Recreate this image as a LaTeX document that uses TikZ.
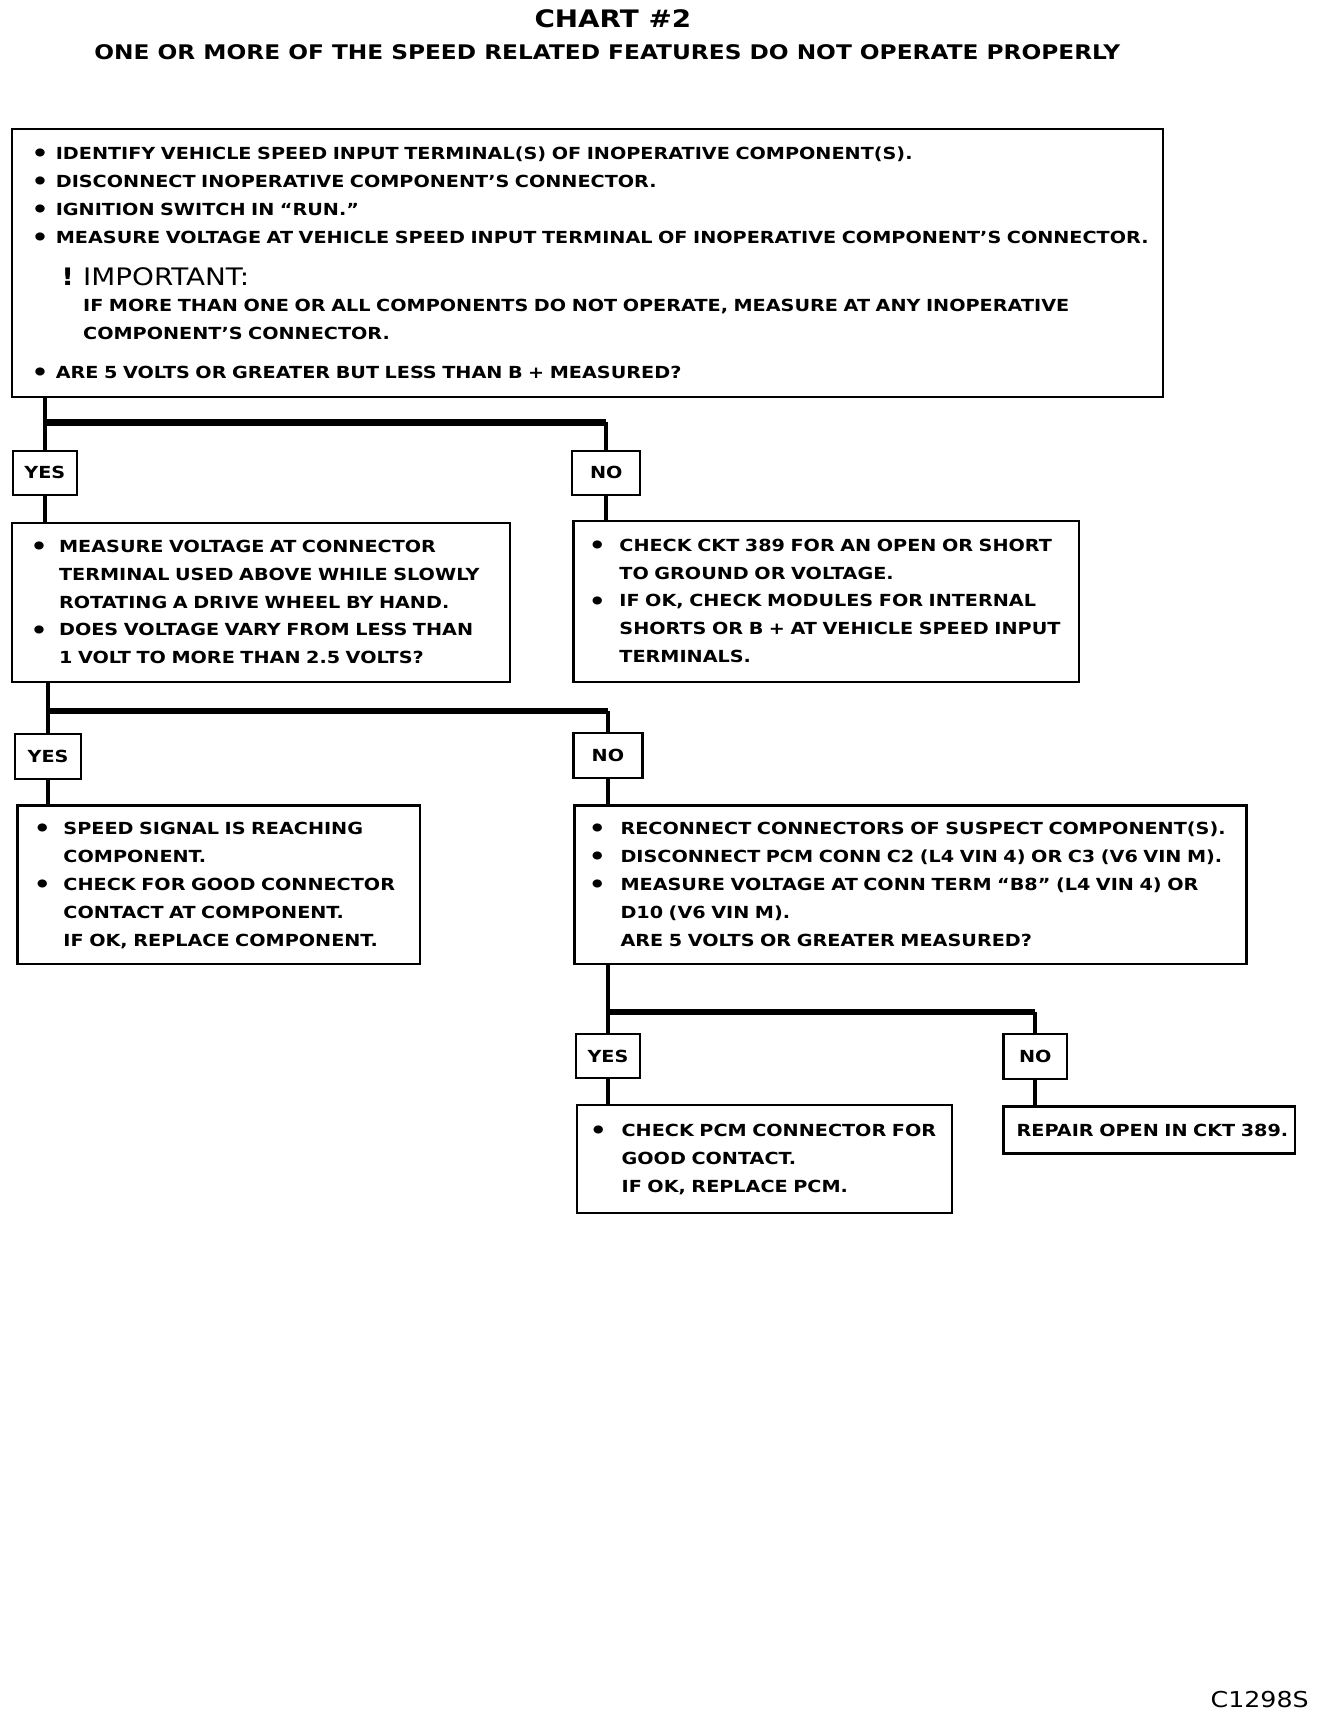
\documentclass[tikz,border=0pt]{standalone}
\usepackage{fontspec}
\setmainfont[FakeStretch=1.155]{DejaVu Sans}
\newcommand\chartbody{\fontsize{7.6}{12.75}\selectfont\bfseries}
\newcommand\bul{\raisebox{-1pt}{\fontsize{10.5}{10}\selectfont\textbullet}}
\newcommand\impmark{\makebox[12.5pt][l]{\hspace{2.5pt}\fontsize{11}{12}\selectfont\bfseries !}{\fontsize{11}{12}\selectfont\mdseries IMPORTANT:}}
\tikzset{
	box/.style={draw, line width=1pt, anchor=north west, inner ysep=0pt, align=left, font=\chartbody},
	tag/.style={draw, line width=1pt, inner sep=0pt, font=\chartbody},
	link/.style={line width=2pt},
	bar/.style={line width=2.8pt},
}
\begin{document}
\begin{tikzpicture}[x=0.5pt,y=-0.5pt]
			% page frame
			\useasboundingbox (0,0) rectangle (1213,1568);
			% titles
			\node[font=\fontsize{11}{13}\selectfont\bfseries] (title) at (560,17) {CHART \#2};
			\node[font=\fontsize{9.2}{11}\selectfont\bfseries] (subtitle) at (555,48) {ONE OR MORE OF THE SPEED RELATED FEATURES DO NOT OPERATE PROPERLY};
			% first check
			\node[box, minimum width=526pt, minimum height=122.5pt, inner xsep=9pt, text width=508pt] (main) at (10,117) {%
				\begin{tabular}{@{}p{11pt}@{}l@{}}
				\bul & IDENTIFY VEHICLE SPEED INPUT TERMINAL(S) OF INOPERATIVE COMPONENT(S).\\
				\bul & DISCONNECT INOPERATIVE COMPONENT'S CONNECTOR.\\
				\bul & IGNITION SWITCH IN ``RUN.''\\
				\bul & MEASURE VOLTAGE AT VEHICLE SPEED INPUT TERMINAL OF INOPERATIVE COMPONENT'S CONNECTOR.\\[6.8pt]
				& \impmark\\[-0.8pt]
				& \hspace{12.5pt}IF MORE THAN ONE OR ALL COMPONENTS DO NOT OPERATE, MEASURE AT ANY INOPERATIVE\\
				& \hspace{12.5pt}COMPONENT'S CONNECTOR.\\[4.8pt]
				\bul & ARE 5 VOLTS OR GREATER BUT LESS THAN B + MEASURED?
				\end{tabular}};
			\node[tag, minimum width=29pt, minimum height=20pt] (yes1) at (41,432) {YES};
			\node[tag, minimum width=31pt, minimum height=20pt] (no1) at (554,432) {NO};
			% second level
			\node[box, minimum width=227.5pt, minimum height=72.5pt, inner xsep=8.5pt, text width=210.5pt] (meas) at (10,477) {%
				\begin{tabular}{@{}p{13pt}@{}l@{}}
				\bul & MEASURE VOLTAGE AT CONNECTOR\\
				& TERMINAL USED ABOVE WHILE SLOWLY\\
				& ROTATING A DRIVE WHEEL BY HAND.\\
				\bul & DOES VOLTAGE VARY FROM LESS THAN\\
				& 1 VOLT TO MORE THAN 2.5 VOLTS?
				\end{tabular}};
			\node[box, minimum width=231pt, minimum height=73.5pt, inner xsep=7pt, text width=217pt] (ckt) at (523,475) {%
				\begin{tabular}{@{}p{14pt}@{}l@{}}
				\bul & CHECK CKT 389 FOR AN OPEN OR SHORT\\
				& TO GROUND OR VOLTAGE.\\
				\bul & IF OK, CHECK MODULES FOR INTERNAL\\
				& SHORTS OR B + AT VEHICLE SPEED INPUT\\
				& TERMINALS.
				\end{tabular}};
			\node[tag, minimum width=30pt, minimum height=20.5pt] (yes2) at (44,691.5) {YES};
			\node[tag, minimum width=31.5pt, minimum height=20.5pt] (no2) at (555.5,690.5) {NO};
			% third level
			\node[box, minimum width=184pt, minimum height=72.5pt, inner xsep=7.5pt, text width=169pt] (sig) at (15,735) {%
				\begin{tabular}{@{}p{13.5pt}@{}l@{}}
				\bul & SPEED SIGNAL IS REACHING\\
				& COMPONENT.\\
				\bul & CHECK FOR GOOD CONNECTOR\\
				& CONTACT AT COMPONENT.\\
				& IF OK, REPLACE COMPONENT.
				\end{tabular}};
			\node[box, minimum width=307pt, minimum height=72.5pt, inner xsep=6.5pt, text width=294pt] (conn) at (524,735) {%
				\begin{tabular}{@{}p{14.5pt}@{}l@{}}
				\bul & RECONNECT CONNECTORS OF SUSPECT COMPONENT(S).\\
				\bul & DISCONNECT PCM CONN C2 (L4 VIN 4) OR C3 (V6 VIN M).\\
				\bul & MEASURE VOLTAGE AT CONN TERM ``B8'' (L4 VIN 4) OR\\
				& D10 (V6 VIN M).\\
				& ARE 5 VOLTS OR GREATER MEASURED?
				\end{tabular}};
			\node[tag, minimum width=29.5pt, minimum height=20pt] (yes3) at (555.5,965) {YES};
			\node[tag, minimum width=29pt, minimum height=20.5pt] (no3) at (946,965.5) {NO};
			% last level
			\node[box, minimum width=171.5pt, minimum height=49pt, inner xsep=6pt, text width=159.5pt] (pcm) at (526,1009) {%
				\begin{tabular}{@{}p{14.5pt}@{}l@{}}
				\bul & CHECK PCM CONNECTOR FOR\\
				& GOOD CONTACT.\\
				& IF OK, REPLACE PCM.
				\end{tabular}};
			\node[box, minimum width=133pt, minimum height=21.5pt, inner xsep=6pt, text width=121pt] (repair) at (916,1010) {\mbox{REPAIR OPEN IN CKT 389.}};
			% connectors
			\coordinate (j1) at (41,386);
			\coordinate (j2) at (44,650);
			\coordinate (j3) at (555.5,925);
			\draw[link] (main.south -| j1) -- (yes1.north);
			\draw[bar] (j1) -- (j1 -| no1);
			\draw[link] (j1 -| no1) -- (no1.north);
			\draw[link] (yes1.south) -- (yes1.south |- meas.north);
			\draw[link] (no1.south) -- (no1.south |- ckt.north);
			\draw[link] (meas.south -| j2) -- (yes2.north);
			\draw[bar] (j2) -- (j2 -| no2);
			\draw[link] (j2 -| no2) -- (no2.north);
			\draw[link] (yes2.south) -- (yes2.south |- sig.north);
			\draw[link] (no2.south) -- (no2.south |- conn.north);
			\draw[link] (conn.south -| j3) -- (yes3.north);
			\draw[bar] (j3) -- (j3 -| no3);
			\draw[link] (j3 -| no3) -- (no3.north);
			\draw[link] (yes3.south) -- (yes3.south |- pcm.north);
			\draw[link] (no3.south) -- (no3.south |- repair.north);
			% figure code
			\node[font=\fontsize{10}{12}\selectfont] (code) at (1151,1553) {C1298S};
		\end{tikzpicture}
\end{document}
